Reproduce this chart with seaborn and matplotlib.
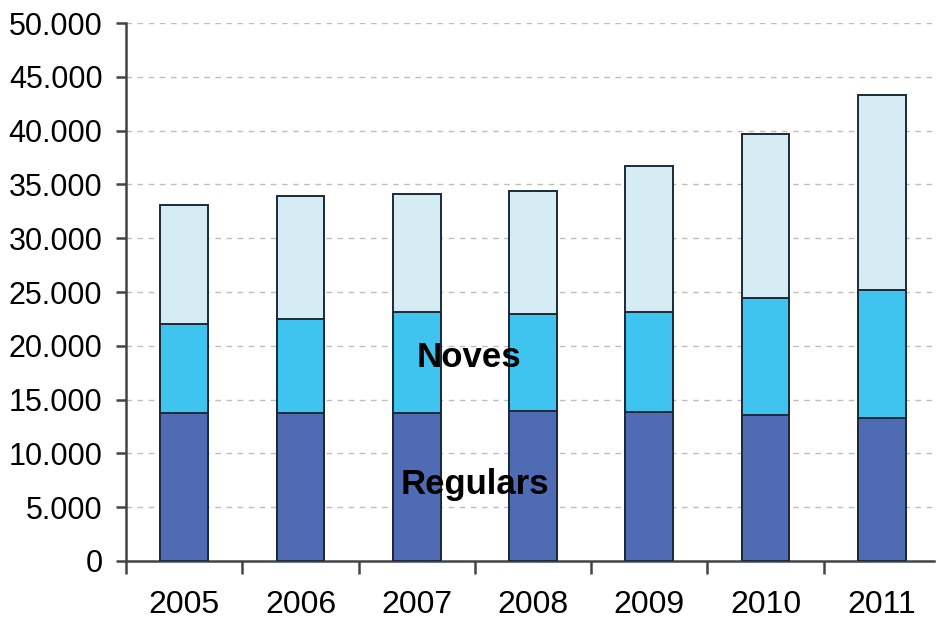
import numpy as np
import pandas as pd
import matplotlib
matplotlib.use('Agg')
import matplotlib.pyplot as plt
from matplotlib.ticker import FuncFormatter, FixedLocator
import seaborn as sns

#-------------------------------------------------------
l_year=['2005', '2006', '2007', '2008', '2009', '2010', '2011']
l_regulars=[13800, 13800, 13800, 13900, 13850, 13550, 13250]
l_noves=[8200, 8700, 9300, 9100, 9300, 10900, 11900]
l_other=[11100, 11400, 11000, 11400, 13550, 15250, 18150]

c_reg='#4f6bb4'
c_nov='#3ec4ee'
c_oth='#d6ecf4'
c_edge='#1c2a38'

#-------------------------------------------------------
df=pd.DataFrame({'year': l_year, 'reg': l_regulars, 'nov': l_noves, 'oth': l_other})
df['top_nov']=df['reg']+df['nov']
df['top_oth']=df['top_nov']+df['oth']

sns.set_style('white')
plt.rcParams['font.family']=['Liberation Sans', 'DejaVu Sans']

fig=plt.figure(figsize=(9.37, 6.19), dpi=100)
ax=fig.add_axes([0.1345, 0.0937, 0.8625, 0.8691])

#stacked: draw cumulative totals from back to front
for col, c in [('top_oth', c_oth), ('top_nov', c_nov), ('reg', c_reg)]:
	sns.barplot(data=df, x='year', y=col, color=c, saturation=1, edgecolor=c_edge,
		linewidth=1.4, width=0.41, ax=ax, zorder=3)

#axis
ax.set_ylim(0, 50000)
ax.set_xlim(-0.5, 6.45)
ax.set_yticks(np.arange(0, 50001, 5000))
ax.yaxis.set_major_formatter(FuncFormatter(lambda v, p: f'{int(v):,}'.replace(',', '.')))
ax.yaxis.grid(True, linestyle=(0, (4, 4)), color='#bdbdbd', linewidth=1.0, zorder=0)
ax.xaxis.grid(False)
ax.set_axisbelow(True)
ax.set_xlabel('')
ax.set_ylabel('')

for s in ['top', 'right']:
	ax.spines[s].set_visible(False)
for s in ['left', 'bottom']:
	ax.spines[s].set_color('#444444')
	ax.spines[s].set_linewidth(1.8)

#ticks: y outward, x at category boundaries
ax.tick_params(axis='y', which='major', direction='out', length=7, width=1.8,
	color='#444444', labelsize=22, labelcolor='black', pad=10, left=True)
ax.xaxis.set_major_locator(FixedLocator(np.arange(-0.5, 6.5, 1)))
ax.xaxis.set_major_formatter(FuncFormatter(lambda v, p: ''))
ax.xaxis.set_minor_locator(FixedLocator(np.arange(0, 7)))
ax.set_xticklabels(l_year, minor=True)
ax.tick_params(axis='x', which='major', direction='out', length=9, width=1.8,
	color='#444444', bottom=True)
ax.tick_params(axis='x', which='minor', length=0, labelsize=23, labelcolor='black', pad=21)

#labels
ax.text(2.45, 18900, 'Noves', fontsize=25, fontweight='bold', color='black',
	ha='center', va='center', zorder=5)
ax.text(2.5, 7100, 'Regulars', fontsize=25, fontweight='bold', color='black',
	ha='center', va='center', zorder=5)

fig.savefig('out.png', dpi=100)
plt.close()
